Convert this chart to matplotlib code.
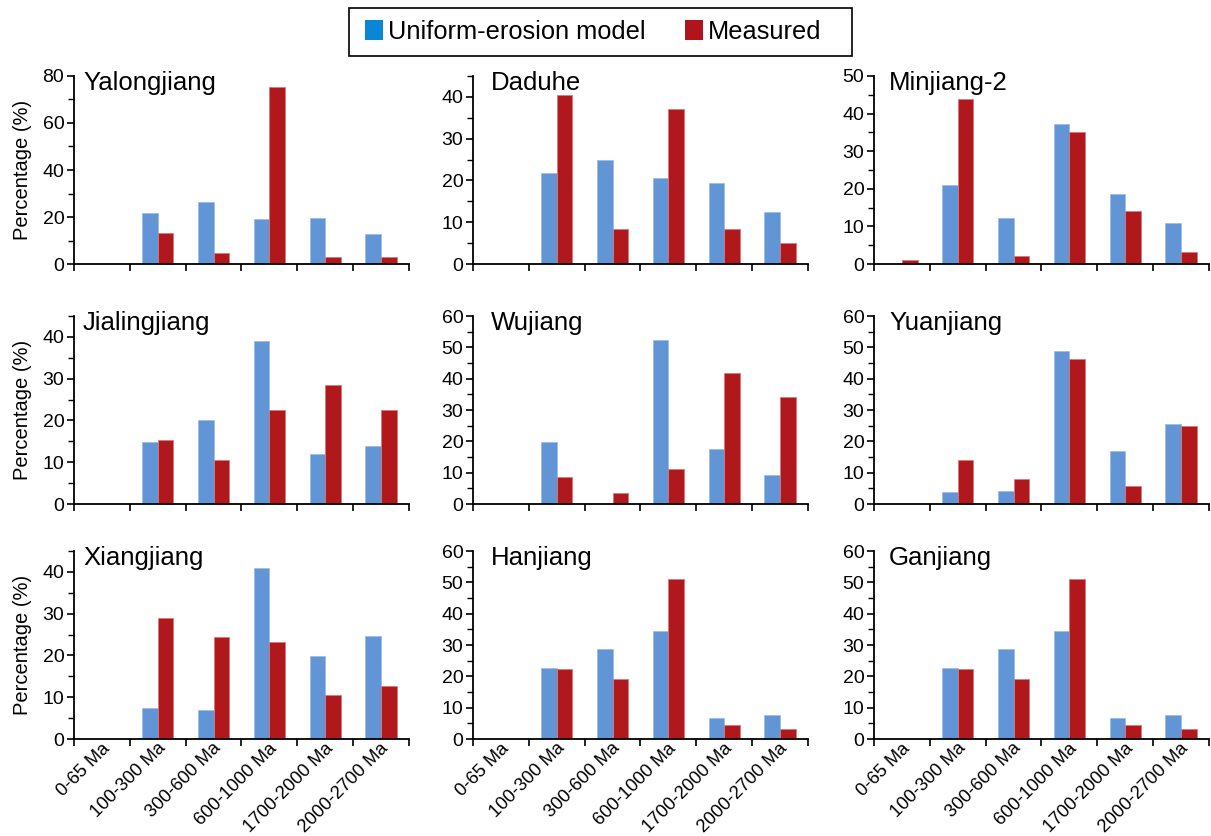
import numpy as np
import matplotlib.pyplot as plt
from matplotlib.patches import Patch, Rectangle
from matplotlib.ticker import MultipleLocator
from matplotlib.transforms import ScaledTranslation

plt.rcParams['font.family'] = ['Liberation Sans', 'DejaVu Sans']

age_bins = ['0-65 Ma', '100-300 Ma', '300-600 Ma', '600-1000 Ma',
            '1700-2000 Ma', '2000-2700 Ma']

rivers = ['Yalongjiang', 'Daduhe', 'Minjiang-2',
          'Jialingjiang', 'Wujiang', 'Yuanjiang',
          'Xiangjiang', 'Hanjiang', 'Ganjiang']

# uniform-erosion model / measured percentages per age bin
yalong_model = [0, 21.9, 26.4, 19.0, 19.7, 12.9]
yalong_meas = [0, 13.0, 4.8, 75.5, 3.0, 3.0]
dadu_model = [0, 21.7, 25.0, 20.7, 19.4, 12.5]
dadu_meas = [0, 40.4, 8.3, 37.2, 8.3, 5.1]
minjiang_model = [0, 20.9, 12.2, 37.2, 18.6, 11.0]
minjiang_meas = [1.1, 43.9, 2.1, 35.2, 14.2, 3.2]
jialing_model = [0, 14.8, 20.0, 39.1, 12.0, 13.9]
jialing_meas = [0, 15.4, 10.6, 22.6, 28.5, 22.6]
wu_model = [0, 19.9, 0, 52.3, 17.5, 9.4]
wu_meas = [0, 8.7, 3.5, 11.1, 41.8, 34.1]
yuan_model = [0, 3.8, 4.3, 48.9, 16.8, 25.4]
yuan_meas = [0, 14.0, 8.1, 46.3, 5.8, 24.9]
xiang_model = [0, 7.5, 7.0, 41.0, 19.8, 24.6]
xiang_meas = [0, 29.0, 24.4, 23.3, 10.5, 12.8]
han_model = [0, 22.6, 28.7, 34.6, 6.6, 7.8]
han_meas = [0, 22.3, 19.0, 51.2, 4.5, 3.3]
gan_model = [0, 22.6, 28.7, 34.6, 6.6, 7.8]
gan_meas = [0, 22.3, 19.0, 51.2, 4.5, 3.3]

model = [yalong_model, dadu_model, minjiang_model, jialing_model, wu_model,
         yuan_model, xiang_model, han_model, gan_model]
measured = [yalong_meas, dadu_meas, minjiang_meas, jialing_meas, wu_meas,
            yuan_meas, xiang_meas, han_meas, gan_meas]
y_top = [80, 45, 50, 45, 60, 60, 45, 60, 60]
y_major = [20, 10, 10, 10, 10, 10, 10, 10, 10]

blue = '#6195d5'
red = '#b0181c'

W, H = 1211, 836
fig = plt.figure(figsize=(W / 100, H / 100), dpi=100)

lefts = [0.0611, 0.3906, 0.7217]
bottoms = [0.6842, 0.3971, 0.1160]
w, h = 0.2766, 0.2249
title_dx = [0.027, 0.054, 0.045]

x = np.arange(len(age_bins))
bw = 0.28
nudge = ScaledTranslation(5 / 100, 0, fig.dpi_scale_trans)

for i, name in enumerate(rivers):
    r, c = divmod(i, 3)
    ax = fig.add_axes([lefts[c], bottoms[r], w, h])
    ax.bar(x - bw / 2, model[i], bw, color=blue, edgecolor='#9dbde6', linewidth=0.6)
    ax.bar(x + bw / 2, measured[i], bw, color=red, edgecolor='#d9787b', linewidth=0.6)

    ax.set_xlim(-0.5, len(age_bins) - 0.5)
    ax.set_ylim(0, y_top[i])
    ax.yaxis.set_major_locator(MultipleLocator(y_major[i]))
    ax.yaxis.set_minor_locator(MultipleLocator(y_major[i] / 2))

    # ticks sit on the category boundaries, labels at the centres
    ax.set_xticks(np.arange(len(age_bins) + 1) - 0.5)
    ax.set_xticklabels([])
    ax.set_xticks(x, minor=True)
    ax.tick_params(axis='x', which='major', direction='out', length=5, width=1.2)
    ax.tick_params(axis='x', which='minor', length=0, pad=5)
    if r == 2:
        ax.set_xticklabels(age_bins, minor=True, rotation=45, ha='right',
                           va='center', rotation_mode='anchor', fontsize=13.2)
        for lbl in ax.get_xticklabels(minor=True):
            lbl.set_transform(lbl.get_transform() + nudge)

    ax.tick_params(axis='y', which='major', direction='out', length=5, width=1.2,
                   labelsize=14, pad=2)
    ax.tick_params(axis='y', which='minor', direction='out', length=4, width=1.0)

    for s in ['top', 'right']:
        ax.spines[s].set_visible(False)
    for s in ['left', 'bottom']:
        ax.spines[s].set_linewidth(1.3)

    ax.text(title_dx[c], 0.926, name, transform=ax.transAxes, fontsize=18.5,
            va='baseline', ha='left')

    if c == 0:
        ax.set_ylabel('Percentage (%)', fontsize=14.5)
        ax.yaxis.set_label_coords(-0.125, 0.5)

# legend box on top, drawn separately so its padding can be uneven
fig.patches.append(Rectangle((349 / W, 1 - 56 / H), 503 / W, 48 / H,
                             transform=fig.transFigure, fill=False,
                             edgecolor='black', linewidth=1.2))
handles = [Patch(facecolor='#0a86d6', edgecolor='none', label='Uniform-erosion model'),
           Patch(facecolor='#b0141c', edgecolor='none', label='Measured')]
fig.legend(handles=handles, loc='center left', bbox_to_anchor=(365 / W, 1 - 32 / H),
           ncol=2, fontsize=18.3, frameon=False, handlelength=0.71,
           handleheight=0.83, handletextpad=0.2, columnspacing=1.55,
           borderpad=0, borderaxespad=0)

fig.savefig('out.png', dpi=100)
